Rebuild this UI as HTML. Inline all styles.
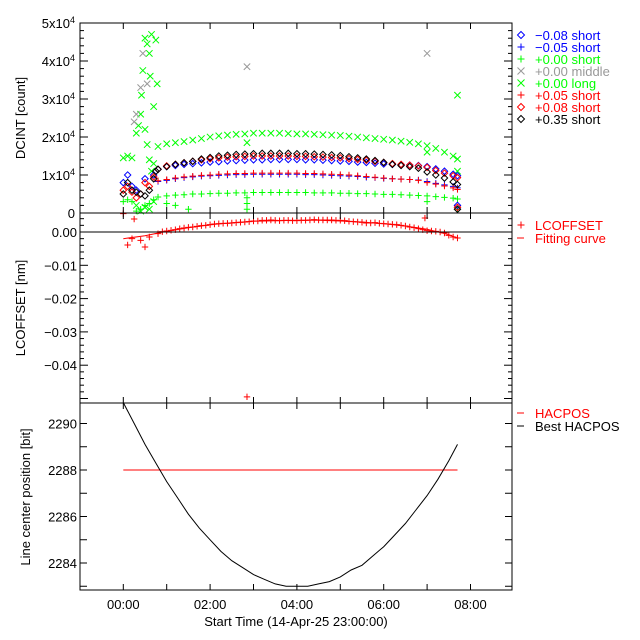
<!DOCTYPE html>
<html><head><meta charset="utf-8"><style>
html,body{margin:0;padding:0;background:#fff;}
svg{display:block;font-family:"Liberation Sans",sans-serif;}
text{font-size:13px;}
</style></head><body>
<svg id="chart" width="640" height="640" viewBox="0 0 640 640" xmlns="http://www.w3.org/2000/svg">
<rect width="640" height="640" fill="#fff"/>
<text x="296" y="18" text-anchor="middle" style="font-size:16px">20250415 DCINT / LCOFFSET / HACPOS</text>
<g id="marks"></g>
<g id="axes"></g>
<text transform="translate(25,118) rotate(-90)" text-anchor="middle">DCINT [count]</text>
<text transform="translate(25,308) rotate(-90)" text-anchor="middle">LCOFFSET [nm]</text>
<text transform="translate(30,497) rotate(-90)" text-anchor="middle">Line center position [bit]</text>
<text x="296" y="626" text-anchor="middle">Start Time (14-Apr-25 23:00:00)</text>
<g id="legend"></g>
</svg>
<script>
const gridT=[0.8,1.0,1.2,1.4,1.6,1.8,2.0,2.2,2.4,2.6,2.8,3.0,3.2,3.4,3.6,3.8,4.0,4.2,4.4,4.6,4.8,5.0,5.2,5.4,5.6,5.8,6.0,6.2,6.4,6.6,6.8,7.0,7.2,7.4,7.6,7.7];
const greenLong=[1.75,1.82,1.85,1.88,1.92,1.96,2.0,2.03,2.05,2.07,2.08,2.1,2.1,2.1,2.1,2.09,2.08,2.08,2.07,2.06,2.05,2.04,2.02,2.0,1.98,1.96,1.94,1.92,1.89,1.86,1.82,1.77,1.7,1.6,1.5,1.42];
const blackDia=[1.15,1.22,1.28,1.32,1.36,1.42,1.46,1.5,1.52,1.54,1.55,1.56,1.57,1.57,1.57,1.57,1.56,1.56,1.55,1.54,1.53,1.51,1.48,1.45,1.42,1.38,1.33,1.28,1.25,1.22,1.18,1.08,1.0,0.92,0.82,0.75];
const redDia=[1.15,1.24,1.28,1.32,1.36,1.4,1.43,1.45,1.47,1.48,1.49,1.5,1.5,1.5,1.5,1.5,1.49,1.49,1.48,1.47,1.46,1.45,1.43,1.41,1.39,1.36,1.33,1.3,1.28,1.26,1.24,1.2,1.12,1.05,0.98,0.93];
const blueDia=[1.15,1.22,1.25,1.28,1.3,1.32,1.34,1.35,1.37,1.38,1.39,1.4,1.4,1.41,1.41,1.41,1.41,1.4,1.4,1.39,1.38,1.37,1.36,1.34,1.33,1.31,1.29,1.28,1.27,1.26,1.25,1.22,1.16,1.1,1.02,0.98];
const redPlus=[0.85,0.88,0.92,0.95,0.97,0.99,1.0,1.02,1.03,1.04,1.04,1.05,1.05,1.05,1.05,1.05,1.05,1.04,1.04,1.03,1.02,1.01,1.0,0.98,0.96,0.94,0.92,0.9,0.89,0.88,0.86,0.8,0.76,0.71,0.66,0.62];
const bluePlus=[0.83,0.86,0.9,0.93,0.95,0.97,0.98,0.99,1.0,1.01,1.01,1.02,1.02,1.02,1.02,1.02,1.02,1.01,1.01,1.0,0.99,0.98,0.97,0.96,0.94,0.93,0.91,0.9,0.89,0.88,0.87,0.83,0.78,0.74,0.7,0.66];
const greenPlus=[0.42,0.45,0.47,0.48,0.5,0.5,0.51,0.52,0.52,0.53,0.53,0.54,0.54,0.54,0.54,0.54,0.54,0.54,0.53,0.53,0.53,0.52,0.52,0.51,0.51,0.5,0.49,0.49,0.48,0.47,0.46,0.45,0.43,0.41,0.39,0.37];
const earlyGreenT=[0.0,0.1,0.2,0.3,0.35,0.4,0.42,0.45,0.5,0.55,0.6,0.62,0.65,0.7,0.75,0.78,0.5,0.55,0.6,0.65,0.7,0.3,0.4,0.5,0.6,0.7,2.85,7.0,7.7,7.7];
const earlyGreenV=[1.45,1.5,1.45,2.1,2.3,2.6,3.1,3.75,4.6,4.45,4.2,3.6,4.7,2.8,4.55,3.4,2.2,1.8,1.4,1.1,1.3,0.2,0.05,0.15,0.1,0.3,1.85,1.6,1.1,3.1];
const grayT=[0.25,0.3,0.4,0.45,0.55,2.85,7.0];
const grayV=[2.4,2.6,3.3,4.2,3.4,3.85,4.2];
const earlyGreenPlusT=[0.0,0.1,0.2,0.3,0.4,0.5,0.6,0.7,1.0,1.2,1.5,2.85,2.85,2.85,7.0,7.7];
const earlyGreenPlusV=[0.3,0.35,0.3,0.05,0.1,0.2,0.25,0.35,0.25,0.2,0.1,0.4,0.25,0.1,0.3,0.1];
const earlyBlackT=[0.0,0.1,0.2,0.3,0.4,0.5,0.6,0.7,0.75,7.7];
const earlyBlackV=[0.5,0.8,0.6,0.55,0.5,0.45,0.6,0.9,1.1,0.1];
const earlyRedT=[0.0,0.1,0.2,0.3,0.4,0.5,0.6,0.7,7.7];
const earlyRedV=[0.6,0.7,0.55,0.4,0.5,0.8,0.7,0.95,0.15];
const earlyBlueT=[0.0,0.1,0.2,0.3,0.5,0.7,7.7];
const earlyBlueV=[0.8,1.0,0.7,0.6,0.9,1.0,0.2];
const lcT=[0.1,0.25,0.2,0.4,0.5,0.6,0.8,1.0,1.2,1.4,1.6,1.8,2.0,2.2,2.4,2.6,2.8,3.0,3.2,3.4,3.6,3.8,4.0,4.2,4.4,4.6,4.8,5.0,5.2,5.4,5.6,5.8,6.0,6.2,6.4,6.6,6.8,6.95,7.0,7.2,7.4,7.6,7.7,2.85,0.0,0.9,1.1,1.3,1.5,1.7,1.9,2.1,2.3,2.5,2.7,2.9,3.1,3.3,3.5,3.7,3.9,4.1,4.3,4.5,4.7,4.9,5.1,5.3,5.5,5.7,5.9,6.1,6.3,6.5,6.7,6.9,7.1,7.3,7.5];
const lcV=[-3.9,3.9,-2.0,-2.5,-4.5,-1.5,-0.5,0.3,0.7,1.2,1.5,1.9,2.2,2.5,2.6,2.8,3.0,3.3,3.5,3.6,3.4,3.5,3.4,3.5,3.7,3.6,3.6,3.5,3.2,3.0,2.7,2.8,2.5,2.3,2.0,1.5,1.0,4.2,0.4,0.2,-0.3,-1.5,-1.8,-49.5,5.5,0.1,0.5,1.0,1.4,1.7,2.0,2.4,2.6,2.7,2.9,3.1,3.3,3.5,3.5,3.5,3.4,3.5,3.6,3.6,3.6,3.5,3.4,3.1,2.9,2.7,2.6,2.4,2.2,1.8,1.3,0.7,0.3,0.0,-1.0];
const fitT=[0,0.5,1.0,1.5,2.0,2.5,3.0,3.5,4.0,4.5,5.0,5.5,6.0,6.5,7.0,7.5,7.7];
const fitV=[-2.0,-1.1,0.2,1.3,2.2,2.8,3.2,3.4,3.5,3.5,3.3,3.0,2.5,1.8,0.8,-0.8,-1.8];
const hacT=[0,0.25,0.5,0.75,1,1.25,1.5,1.75,2,2.25,2.5,2.75,3,3.25,3.5,3.75,4,4.25,4.5,4.75,5,5.25,5.5,5.75,6,6.25,6.5,6.75,7,7.25,7.5,7.7];
const hacBest=[2290.9,2290.0,2289.1,2288.3,2287.5,2286.8,2286.1,2285.5,2285.0,2284.5,2284.1,2283.8,2283.5,2283.3,2283.1,2283.0,2283.0,2283.0,2283.1,2283.2,2283.4,2283.7,2283.9,2284.3,2284.7,2285.2,2285.7,2286.3,2286.9,2287.6,2288.4,2289.1];
const hacSet=[2288,2288];
const hacSetT=[0,7.7];
const xTickLabels=["00:00","02:00","04:00","06:00","08:00"];
const y1TickLabels=["0","1x10","2x10","3x10","4x10","5x10"];
const y2TickLabels=["0.00","−0.01","−0.02","−0.03","−0.04"];
const y3TickLabels=["2284","2286","2288","2290"];

const NS="http://www.w3.org/2000/svg";
const L=80,R=512;
const X=t=>123.3+t*43.4;
const Y1=v=>213-v*38;
const Y2=v=>232-v*3.33;
const Y3=v=>470-(v-2288)*23.25;
const marks=document.getElementById('marks'),axes=document.getElementById('axes'),leg=document.getElementById('legend');
function el(tag,attrs,parent){const e=document.createElementNS(NS,tag);for(const k in attrs)e.setAttribute(k,attrs[k]);parent.appendChild(e);return e;}
function marker(type,x,y,c,parent,s){s=s||3.2;let d;
 if(type==='dia')d=`M${x} ${y-s}L${x+s} ${y}L${x} ${y+s}L${x-s} ${y}Z`;
 else if(type==='plus')d=`M${x-s} ${y}H${x+s}M${x} ${y-s}V${y+s}`;
 else d=`M${x-s} ${y-s}L${x+s} ${y+s}M${x-s} ${y+s}L${x+s} ${y-s}`;
 return el('path',{d:d,stroke:c,fill:'none','stroke-width':1},parent);}
function series(name,type,c,ts,vs,Yf){const g=el('g',{},marks);
 
 
 ts.forEach((t,i)=>{const m=marker(type,X(t),Yf(vs[i]),c,g);
  
  });}
series('series-plus0.00-long','x','#00ff00',gridT,greenLong,Y1);
series('series-plus0.00-long-early','x','#00ff00',earlyGreenT,earlyGreenV,Y1);
series('series-plus0.00-middle','x','#999999',grayT,grayV,Y1);
series('series-plus0.00-short','plus','#00ff00',gridT,greenPlus,Y1);
series('series-plus0.00-short-early','plus','#00ff00',earlyGreenPlusT,earlyGreenPlusV,Y1);
series('series-minus0.05-short','plus','#0000ff',gridT,bluePlus,Y1);
series('series-plus0.05-short','plus','#ff0000',gridT,redPlus,Y1);
series('series-minus0.08-short','dia','#0000ff',gridT,blueDia,Y1);
series('series-minus0.08-short-early','dia','#0000ff',earlyBlueT,earlyBlueV,Y1);
series('series-plus0.08-short','dia','#ff0000',gridT,redDia,Y1);
series('series-plus0.08-short-early','dia','#ff0000',earlyRedT,earlyRedV,Y1);
series('series-plus0.35-short','dia','#000000',gridT,blackDia,Y1);
series('series-plus0.35-short-early','dia','#000000',earlyBlackT,earlyBlackV,Y1);
series('lcoffset-points','plus','#ff0000',lcT,lcV,Y2);
function line(name,ts,vs,Yf,c){const p=el('path',{d:ts.map((t,i)=>(i?'L':'M')+X(t).toFixed(1)+' '+Yf(vs[i]).toFixed(1)).join(''),stroke:c,fill:'none','stroke-width':1},marks);
 
 }
line('lcoffset-fitting-curve',fitT,fitV,Y2,'#ff0000');
line('hacpos-line',hacSetT,hacSet,Y3,'#ff0000');
line('best-hacpos-curve',hacT,hacBest,Y3,'#000000');
el('rect',{x:0,y:0,width:640,height:23,fill:'#fff'},marks);
[[23,213],[213,403],[403,590]].forEach(p=>{const r=el('rect',{x:L,y:p[0],width:R-L,height:p[1]-p[0],fill:'none',stroke:'#000','stroke-width':1},axes);
 
 });
el('line',{x1:L,x2:R,y1:232,y2:232,stroke:'#000'},axes);
function tick(x1,y1,x2,y2){el('line',{x1,y1,x2,y2,stroke:'#000','stroke-width':1},axes);}
[213,403,590].forEach(yb=>{for(let h=0;h<=8;h++){const x=X(h);tick(x,yb,x,yb-6);if(yb!==590)tick(x,yb,x,yb+6);}});
for(let h=0;h<=8;h++){tick(X(h),23,X(h),29);}
xTickLabels.forEach((s,i)=>{const t=el('text',{x:X(i*2),y:609,'text-anchor':'middle'},axes);t.textContent=s;
 
 });
for(let k=0;k<=25;k++){const y=Y1(k*0.2);const len=(k%5===0)?8:4;tick(L,y,L+len,y);tick(R,y,R-len,y);}
y1TickLabels.forEach((s,i)=>{const t=el('text',{x:75,y:Y1(i)+5,'text-anchor':'end'},axes);
 t.textContent=s;
 if(i>0){const sp=el('tspan',{dy:-5,style:'font-size:9px'},t);sp.textContent='4';}
 
 });
for(let k=-25;k<=2;k++){const y=232+k*(-6.66);if(y<213||y>403)continue;const len=(k%5===0)?8:4;tick(L,y,L+len,y);tick(R,y,R-len,y);}
y2TickLabels.forEach((s,i)=>{const t=el('text',{x:77,y:232+i*33.3+5,'text-anchor':'end'},axes);t.textContent=s;
 
 });
for(let v=2283;v<=2290;v++){const y=Y3(v);tick(L,y,L+7,y);tick(R,y,R-7,y);}
y3TickLabels.forEach((s,i)=>{const t=el('text',{x:77,y:Y3(2284+i*2)+5,'text-anchor':'end'},axes);t.textContent=s;
 
 });
const legItems=[['dia','#0000ff','−0.08 short',35],['plus','#0000ff','−0.05 short',47],['plus','#00ff00','+0.00 short',59],['x','#999999','+0.00 middle',71],['x','#00ff00','+0.00 long',83],['plus','#ff0000','+0.05 short',95],['dia','#ff0000','+0.08 short',107],['dia','#000000','+0.35 short',119],['plus','#ff0000','LCOFFSET',225],['line','#ff0000','Fitting curve',238],['line','#ff0000','HACPOS',413],['line','#000000','Best HACPOS',426]];
legItems.forEach(it=>{const g=el('g',{},leg);
 
 
 if(it[0]==='line')el('line',{x1:517,x2:524,y1:it[3],y2:it[3],stroke:it[1]},g);else marker(it[0],521,it[3],it[1],g,3.5);
 const t=el('text',{x:535,y:it[3]+5,fill:it[1]},g);t.textContent=it[2];});
</script>
</body></html>
